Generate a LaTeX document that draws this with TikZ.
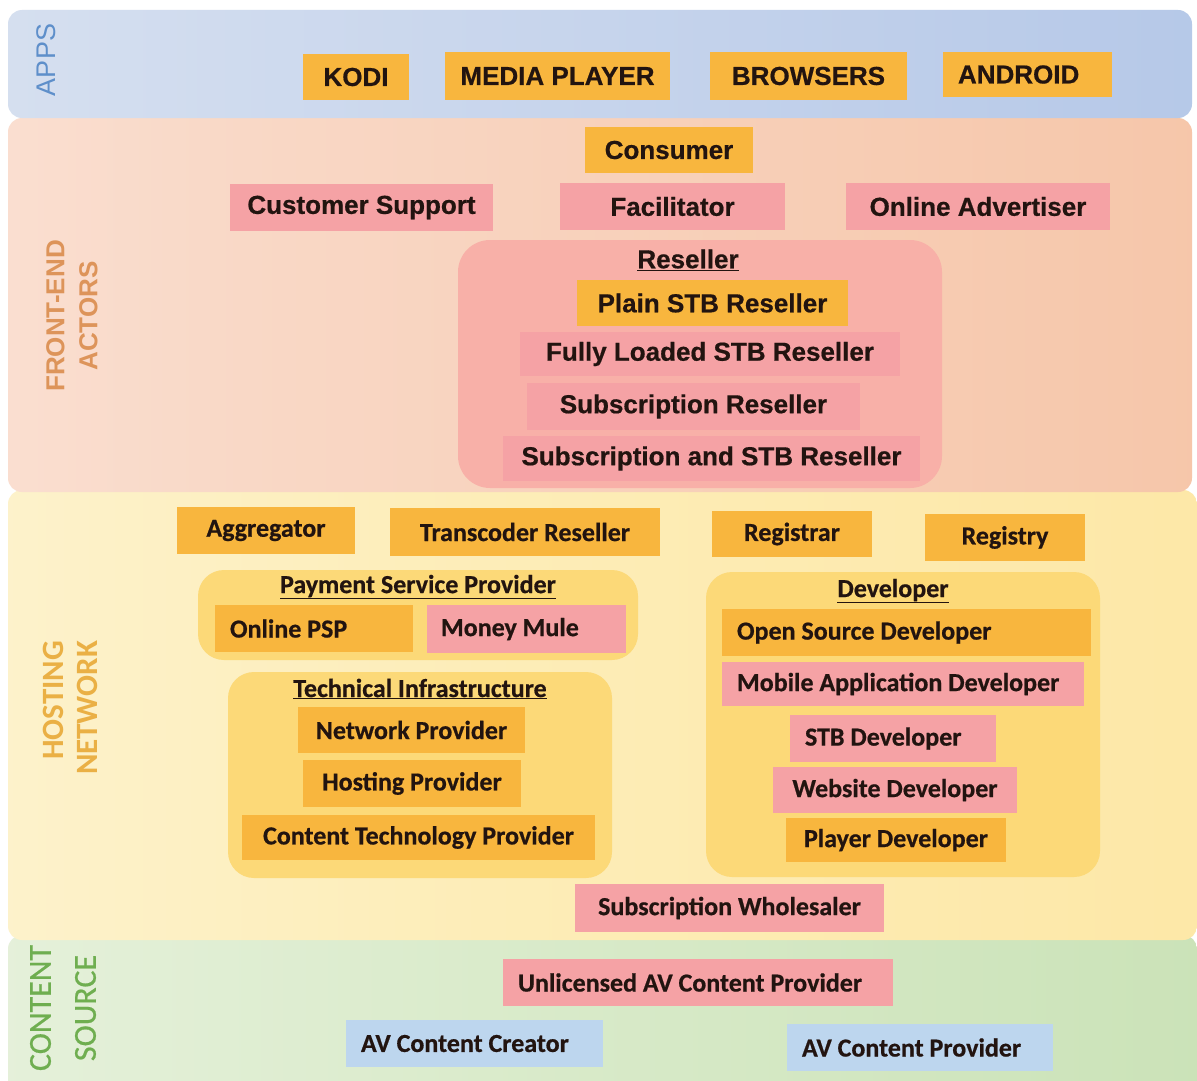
\documentclass[tikz,border=0pt]{standalone}
\usepackage{fontspec}
\setmainfont{Liberation Sans}
\newfontfamily\arialf{Liberation Sans}
\newfontfamily\arialheavy[FakeBold=0.6]{Liberation Sans}
\newfontfamily\calf{Carlito}
\newfontfamily\calheavy[FakeBold=0.6]{Carlito}

% fills
\definecolor{orangebox}{HTML}{F8B63E}
\definecolor{pinkbox}{HTML}{F5A2A5}
\definecolor{bluebox}{HTML}{BDD6EE}
\definecolor{txt}{HTML}{221410}
\definecolor{resellerfill}{HTML}{F8B0A8}
\definecolor{groupfill}{HTML}{FCD978}
% band colours
\definecolor{appsL}{HTML}{E4EAF3}
\definecolor{appsM}{HTML}{C6D4EC}
\definecolor{appsR}{HTML}{A6BDE4}
\definecolor{feL}{HTML}{FCEEE9}
\definecolor{feM}{HTML}{F9D8C6}
\definecolor{feR}{HTML}{F5C2A3}
\definecolor{feE}{HTML}{F9D7C3}
\definecolor{hnL}{HTML}{FEF8E2}
\definecolor{hnM}{HTML}{FDEDB8}
\definecolor{hnR}{HTML}{FDE6A2}
\definecolor{hnE}{HTML}{FEF0C6}
\definecolor{csL}{HTML}{F2F7EC}
\definecolor{csM}{HTML}{DAEBCB}
\definecolor{csR}{HTML}{C6E0B2}
\definecolor{csE}{HTML}{D2E7C0}
% label colours
\definecolor{appslabel}{HTML}{5E8FCA}
\definecolor{felabel}{HTML}{DD945A}
\definecolor{hnlabel}{HTML}{EAB045}
\definecolor{cslabel}{HTML}{6FAE50}

\pgfdeclarehorizontalshading{appsband}{100bp}{color(0bp)=(appsL); color(50bp)=(appsM); color(100bp)=(appsR)}
\pgfdeclarehorizontalshading{feband}{100bp}{color(0bp)=(feL); color(35bp)=(feM); color(85bp)=(feR); color(100bp)=(feE)}
\pgfdeclarehorizontalshading{hnband}{100bp}{color(0bp)=(hnL); color(45bp)=(hnM); color(85bp)=(hnR); color(100bp)=(hnE)}
\pgfdeclarehorizontalshading{csband}{100bp}{color(0bp)=(csL); color(45bp)=(csM); color(85bp)=(csR); color(100bp)=(csE)}

\tikzset{
  box/.style={rectangle, inner sep=0pt, text=txt},
  ob/.style={box, fill=orangebox},
  pb/.style={box, fill=pinkbox},
  bb/.style={box, fill=bluebox},
  sz/.style 2 args={minimum width=#1, minimum height=#2},
  lft/.style={text width=#1, align=flush left},
  ar/.style={font=\arialheavy\bfseries\fontsize{26}{30}\selectfont},
  ca/.style={font=\calheavy\bfseries\fontsize{26}{30}\selectfont},
  group/.style={rectangle, rounded corners=26, fill=groupfill, inner sep=0pt},
  title/.style={text=txt, inner sep=0pt},
  sectlabel/.style={rotate=90, align=center, inner sep=0pt},
}

\begin{document}
\begin{tikzpicture}[x=1pt,y=-1pt]
\useasboundingbox (0,0) rectangle (1197,1081);
\fill[white] (0,0) rectangle (1197,1081);

% layer bands
\path[shading=csband, rounded corners=14] (8,935) rectangle (1197,1095);
\path[shading=hnband, rounded corners=14] (8,490) rectangle (1197,940);
\path[shading=feband, rounded corners=14] (8,118) rectangle (1192,492);
\path[shading=appsband, rounded corners=14] (8,10) rectangle (1192,118);

% layer labels
\node[sectlabel, text=appslabel, font=\arialf\fontsize{27}{30}\selectfont] (lapps) at (46,60) {APPS};
\node[sectlabel, text=felabel, font=\arialf\bfseries\fontsize{26}{33}\selectfont] (lfe) at (72,316) {FRONT-END\\ACTORS};
\node[sectlabel, text=hnlabel, font=\calf\bfseries\fontsize{31}{34}\selectfont, align=right] (lhn) at (70,708) {HOSTING\\NETWORK};
\node[sectlabel, text=cslabel, font=\calheavy\fontsize{32}{45}\selectfont] (lcs) at (63,1008) {CONTENT\\SOURCE};

% apps
\node[ob, ar, sz={106}{46}] (kodi) at (356,77) {KODI};
\node[ob, ar, sz={225}{48}] (mediaplayer) at (557.5,76) {MEDIA PLAYER};
\node[ob, ar, sz={197}{48}] (browsers) at (808.5,76) {BROWSERS};
\node[ob, ar, sz={169}{45}, lft={139}, inner xsep=15pt] (android) at (1027.5,74.5) {ANDROID};

% front-end actors
\node[ob, ar, sz={168}{46}] (consumer) at (669,150) {Consumer};
\node[pb, ar, sz={263}{47}] (custsupport) at (361.5,207.5) {Customer Support};
\node[pb, ar, sz={225}{47}] (facilitator) at (672.5,206.5) {Facilitator};
\node[pb, ar, sz={264}{47}] (onlineadv) at (978,206.5) {Online Advertiser};

\node[group, fill=resellerfill, rounded corners=32, sz={484}{248}] (reseller) at (700,364) {};
\node[title, ar] (resellertitle) at (688,260) {\underline{Reseller}};
\node[ob, ar, sz={271}{46}] (plainstb) at (712.5,303) {Plain STB Reseller};
\node[pb, ar, sz={380}{44}] (fullyloaded) at (710,354) {Fully Loaded STB Reseller};
\node[pb, ar, sz={333}{47}] (subreseller) at (693.5,406.5) {Subscription Reseller};
\node[pb, ar, sz={417}{45}] (subandstb) at (711.5,458.5) {Subscription and STB Reseller};

% hosting network
\node[ob, ca, sz={178}{47}] (aggregator) at (266,530.5) {Aggregator};
\node[ob, ca, sz={270}{48}] (transcoder) at (525,532) {Transcoder Reseller};
\node[ob, ca, sz={160}{46}] (registrar) at (792,534) {Registrar};
\node[ob, ca, sz={160}{47}] (registry) at (1005,537.5) {Registry};

\node[group, sz={440}{90}] (psp) at (418,615) {};
\node[title, ca] (psptitle) at (418,587) {\underline{Payment Service Provider}};
\node[ob, ca, sz={198}{47}, lft={168}, inner xsep=15pt] (onlinepsp) at (314,628.5) {Online PSP};
\node[pb, ca, sz={199}{48}, lft={171}, inner xsep=14pt] (moneymule) at (526.5,629) {Money Mule};

\node[group, sz={384}{206}] (techinfra) at (420,775) {};
\node[title, ca] (techtitle) at (420,689) {\underline{Technical Infrastructure}};
\node[ob, ca, sz={227}{46}] (networkprov) at (411.5,730) {Network Provider};
\node[ob, ca, sz={218}{47}] (hostingprov) at (412,783.5) {Hosting Provider};
\node[ob, ca, sz={353}{45}] (contenttech) at (418.5,837.5) {Content Technology Provider};

\node[group, sz={394}{305}] (developer) at (903,724.5) {};
\node[title, ca] (devtitle) at (893,591) {\underline{Developer}};
\node[ob, ca, sz={369}{47}, lft={339}, inner xsep=15pt] (opensource) at (906.5,632.5) {Open Source Developer};
\node[pb, ca, sz={362}{44}, lft={332}, inner xsep=15pt] (mobileapp) at (903,684) {Mobile Application Developer};
\node[pb, ca, sz={206}{47}, lft={176}, inner xsep=15pt] (stbdev) at (893,738.5) {STB Developer};
\node[pb, ca, sz={244}{46}] (websitedev) at (895,790) {Website Developer};
\node[ob, ca, sz={220}{44}] (playerdev) at (896,840) {Player Developer};

\node[pb, ca, sz={309}{48}] (subwholesaler) at (729.5,908) {Subscription Wholesaler};

% content source
\node[pb, ca, sz={390}{47}, lft={360}, inner xsep=15pt] (unlicensed) at (698,982.5) {Unlicensed AV Content Provider};
\node[bb, ca, sz={257}{47}, lft={227}, inner xsep=15pt] (avcreator) at (474.5,1043.5) {AV Content Creator};
\node[bb, ca, sz={266}{47}, lft={236}, inner xsep=15pt] (avprovider) at (920,1047.5) {AV Content Provider};
\end{tikzpicture}
\end{document}
